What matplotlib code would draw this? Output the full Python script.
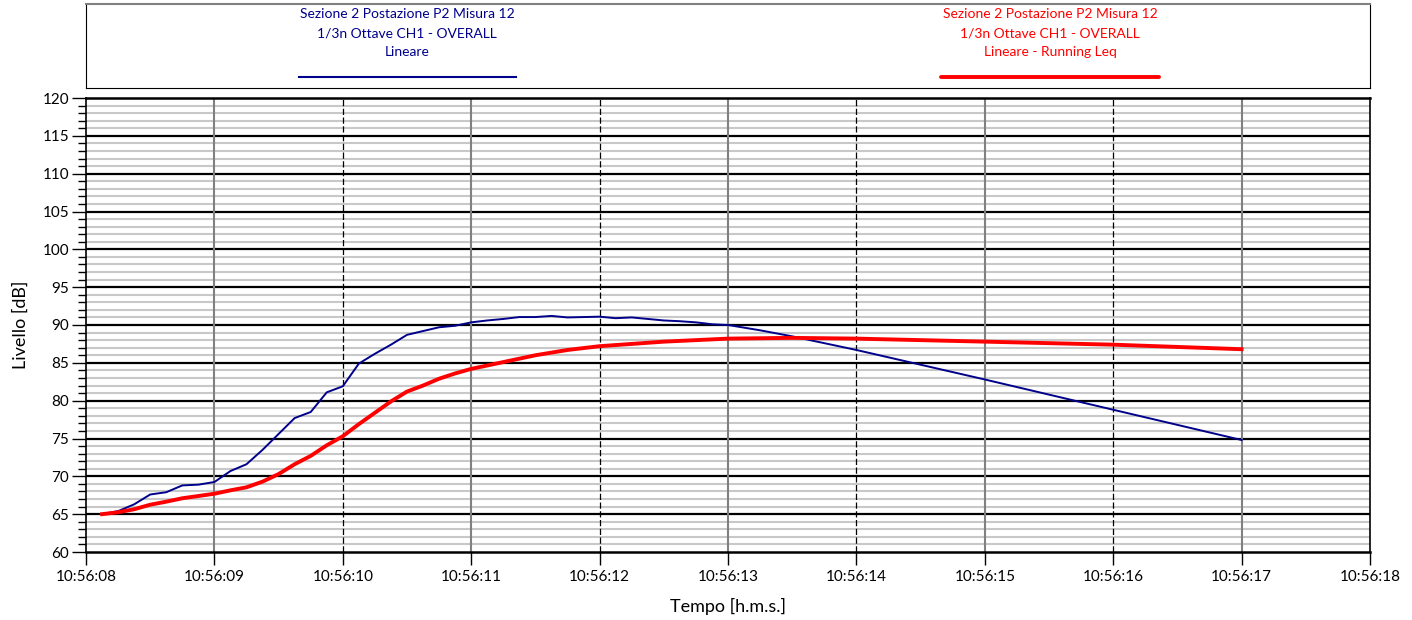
import matplotlib.pyplot as plt
from matplotlib.ticker import MultipleLocator

plt.rcParams['font.family'] = ['Lato', 'DejaVu Sans']

# seconds after 10:56:08
blue_t = [0.125, 0.25, 0.375, 0.5, 0.625, 0.75, 0.875, 1.0,
          1.125, 1.25, 1.375, 1.5, 1.625, 1.75, 1.875, 2.0,
          2.125, 2.25, 2.375, 2.5, 2.625, 2.75, 2.875, 3.0,
          3.125, 3.25, 3.375, 3.5, 3.625, 3.75, 3.875, 4.0,
          4.125, 4.25, 4.375, 4.5, 4.625, 4.75, 4.875, 5.0,
          5.25, 5.5, 6.0, 7.0, 8.0, 9.0]
blue_db = [65.0, 65.4, 66.3, 67.6, 67.9, 68.8, 68.9, 69.25,
           70.7, 71.6, 73.5, 75.6, 77.7, 78.5, 81.1, 81.9,
           84.9, 86.2, 87.4, 88.7, 89.2, 89.7, 89.9, 90.35,
           90.6, 90.8, 91.05, 91.05, 91.2, 91.0, 91.05, 91.1,
           90.9, 91.0, 90.8, 90.6, 90.5, 90.35, 90.1, 90.0,
           89.3, 88.5, 86.7, 82.8, 78.8, 74.8]

red_t = [0.125, 0.25, 0.375, 0.5, 0.625, 0.75, 0.875, 1.0,
         1.125, 1.25, 1.375, 1.5, 1.625, 1.75, 1.875, 2.0,
         2.125, 2.25, 2.375, 2.5, 2.625, 2.75, 2.875, 3.0,
         3.25, 3.5, 3.75, 4.0, 4.5, 5.0, 5.5, 6.0, 7.0, 8.0, 9.0]
red_db = [65.0, 65.25, 65.65, 66.25, 66.65, 67.1, 67.4, 67.7,
          68.15, 68.55, 69.3, 70.3, 71.6, 72.7, 74.1, 75.3,
          76.9, 78.4, 79.9, 81.2, 82.0, 82.9, 83.6, 84.2,
          85.1, 86.0, 86.7, 87.2, 87.8, 88.2, 88.3, 88.2, 87.8, 87.4, 86.8]

x_labels = ['10:56:08', '10:56:09', '10:56:10', '10:56:11', '10:56:12', '10:56:13',
            '10:56:14', '10:56:15', '10:56:16', '10:56:17', '10:56:18']

title_blue = 'Sezione 2 Postazione P2 Misura 12\n1/3n Ottave CH1 - OVERALL\nLineare'
title_red = 'Sezione 2 Postazione P2 Misura 12\n1/3n Ottave CH1 - OVERALL\nLineare - Running Leq'

navy = '#00008B'
red = '#FF0000'

fig = plt.figure(figsize=(14.12, 6.2), dpi=100)
ax = fig.add_axes([86/1412, 1 - 552/620, 1284/1412, 454/620])

ax.set_xlim(0, 10)
ax.set_ylim(60, 120)

# horizontal grid
for v in range(61, 120):
    if v % 5:
        ax.axhline(v, color='#c8c8c8', lw=1.5, zorder=1)
for v in range(65, 120, 5):
    ax.axhline(v, color='black', lw=1.6, zorder=2)

# vertical grid
for s in range(1, 10):
    if s % 2:
        ax.axvline(s, color='#808080', lw=1.5, zorder=2)
    else:
        ax.axvline(s, color='black', lw=0.9, ls=(0, (5, 2)), zorder=2)

ax.plot(blue_t, blue_db, color=navy, lw=1.4, zorder=4)
ax.plot(red_t, red_db, color=red, lw=2.8, zorder=5)

ax.set_xticks(range(11))
ax.set_xticklabels(x_labels, fontsize=11)
ax.yaxis.set_major_locator(MultipleLocator(5))
ax.yaxis.set_minor_locator(MultipleLocator(1))
ax.tick_params(axis='y', which='major', length=10, width=1, labelsize=11, pad=2)
ax.tick_params(axis='y', which='minor', length=6, width=1)
ax.tick_params(axis='x', which='major', length=9, width=1, labelsize=11, pad=4)
for sp in ax.spines.values():
    sp.set_linewidth(1.2)
ax.spines['top'].set_linewidth(1.8)
ax.spines['bottom'].set_linewidth(1.8)

ax.set_xlabel('Tempo [h.m.s.]', fontsize=13, labelpad=10)
ax.set_ylabel('Livello [dB]', fontsize=13, labelpad=10)

# legend box on top
lg = fig.add_axes([86/1412, 1 - 88/620, 1284/1412, 84/620])
lg.set_xlim(86, 1370)
lg.set_ylim(88, 4)
lg.set_xticks([])
lg.set_yticks([])
lg.spines['top'].set_color('#808080')
lg.spines['top'].set_linewidth(1.5)
lg.text(407, 33, title_blue, color=navy, fontsize=10, ha='center', va='center', linespacing=1.7)
lg.text(1050, 33, title_red, color=red, fontsize=10, ha='center', va='center', linespacing=1.7)
lg.plot([299, 516], [77, 77], color=navy, lw=1.5)
lg.plot([941, 1159], [77, 77], color=red, lw=2.8, solid_capstyle='round')

fig.savefig('out.png', dpi=100)
plt.close()
